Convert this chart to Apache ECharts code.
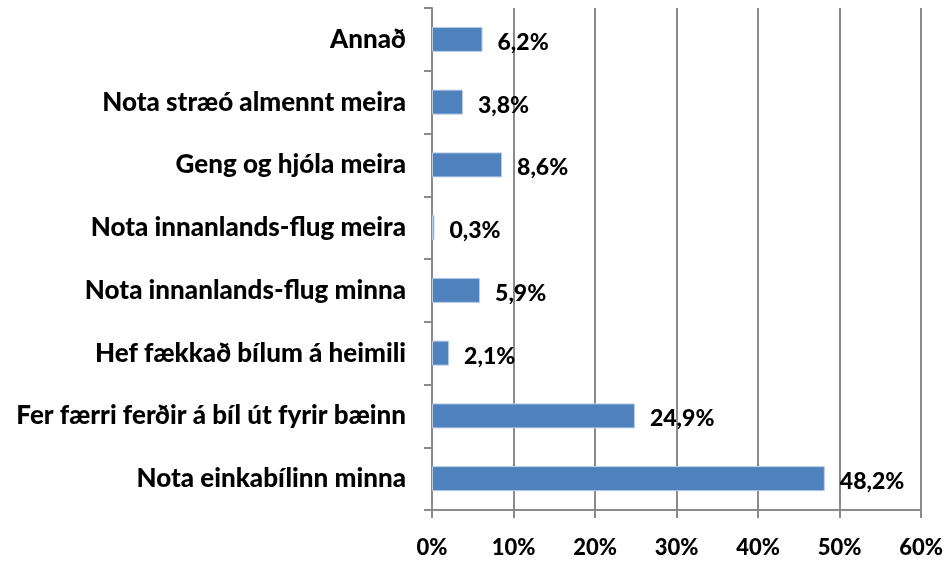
<!DOCTYPE html>
<html>
<head>
<meta charset="utf-8">
<script src="https://cdn.jsdelivr.net/npm/echarts@6/dist/echarts.min.js"></script>
<style>
  html, body { margin: 0; padding: 0; background: #fff; }
  #chart { width: 947px; height: 566px; }
</style>
</head>
<body>
<div id="chart"></div>
<script>
// categories bottom to top, as drawn
var categories = [
    'Nota einkabílinn minna',
    'Fer færri ferðir á bíl út fyrir bæinn',
    'Hef fækkað bílum á heimili',
    'Nota innanlands-flug minna',
    'Nota innanlands-flug meira',
    'Geng og hjóla meira',
    'Nota stræó almennt meira',
    'Annað'
];
var values = [48.2, 24.9, 2.1, 5.9, 0.3, 8.6, 3.8, 6.2];
var xTicks = [0, 10, 20, 30, 40, 50, 60];

var chart = echarts.init(document.getElementById('chart'));
var font = 'Lato, "Open Sans", sans-serif';
var gray = '#8a8a8a';

var option = {
    animation: false,
    grid: {
        left: 432,
        right: 26,
        top: 8,
        bottom: 56,
        containLabel: false
    },
    xAxis: {
        type: 'value',
        min: xTicks[0],
        max: xTicks[xTicks.length - 1],
        interval: 10,
        axisLine: { show: true, lineStyle: { color: gray, width: 2 } },
        axisTick: { show: true, length: 8, lineStyle: { color: gray, width: 2 } },
        splitLine: { show: true, lineStyle: { color: gray, width: 2 } },
        axisLabel: {
            margin: 27,
            color: '#000',
            fontFamily: font,
            fontWeight: 900,
            fontSize: 22,
            formatter: function (v) { return v + '%'; }
        }
    },
    yAxis: {
        type: 'category',
        data: categories,
        axisLine: { show: true, lineStyle: { color: gray, width: 2 } },
        axisTick: { show: true, length: 8, alignWithLabel: false, lineStyle: { color: gray, width: 2 } },
        axisLabel: {
            margin: 26,
            color: '#000',
            fontFamily: font,
            fontWeight: 900,
            fontSize: 26
        }
    },
    series: [{
        type: 'bar',
        data: values,
        barWidth: 25,
        itemStyle: {
            color: '#4f81bd',
            borderColor: '#b9cde5',
            borderWidth: 1
        },
        label: {
            show: true,
            position: 'right',
            distance: 15,
            offset: [0, 3],
            color: '#000',
            fontFamily: font,
            fontWeight: 900,
            fontSize: 23,
            formatter: function (p) { return p.value.toFixed(1).replace('.', ',') + '%'; }
        }
    }]
};

chart.setOption(option);
</script>
</body>
</html>
